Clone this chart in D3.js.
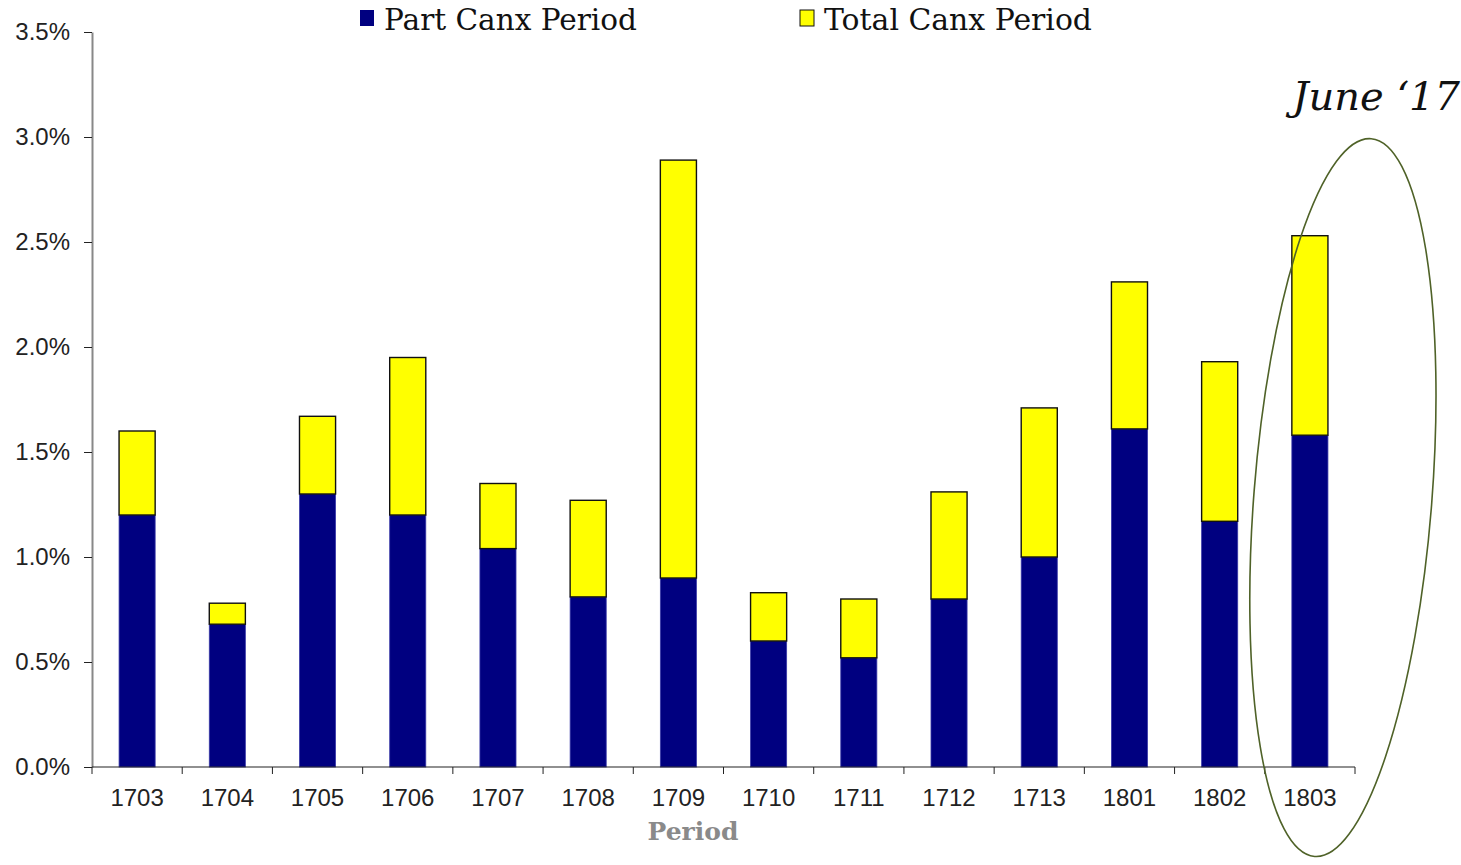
<!DOCTYPE html>
<html>
<head>
<meta charset="utf-8">
<script src="https://cdn.jsdelivr.net/npm/d3@7"></script>
<style>
  html, body { margin: 0; padding: 0; background: #fff; }
  svg { display: block; }
</style>
</head>
<body>
<script>
const categories = ["1703","1704","1705","1706","1707","1708","1709","1710","1711","1712","1713","1801","1802","1803"];
// Stacked segment heights, in percent
const partCanx  = [1.20, 0.68, 1.30, 1.20, 1.04, 0.81, 0.90, 0.60, 0.52, 0.80, 1.00, 1.61, 1.17, 1.58];
const totalCanx = [0.40, 0.10, 0.37, 0.75, 0.31, 0.46, 1.99, 0.23, 0.28, 0.51, 0.71, 0.70, 0.76, 0.95];
const yTicks = [0, 0.5, 1.0, 1.5, 2.0, 2.5, 3.0, 3.5];
const seriesNames = ["Part Canx Period", "Total Canx Period"];
const seriesColors = ["#000080", "#ffff00"];
const highlightCategory = "1803";
const annotationText = "June \u201817";

const W = 1461, H = 865;
const margin = {left: 92, right: 106, top: 32, bottom: 98};
const svg = d3.select("body").append("svg").attr("width", W).attr("height", H);

const x = d3.scaleBand().domain(categories).range([margin.left, W - margin.right]).paddingInner(0.6).paddingOuter(0.3);
const xEdges = d3.scaleBand().domain(categories).range([margin.left, W - margin.right]);
const y = d3.scaleLinear().domain([0, 3.5]).range([H - margin.bottom, margin.top]);

const data = categories.map((c, i) => ({cat: c, part: partCanx[i], total: totalCanx[i]}));
const stack = d3.stack().keys(["part", "total"])(data);

// Y axis
const yAxis = svg.append("g").attr("transform", `translate(${margin.left},0)`)
  .call(d3.axisLeft(y).tickValues(yTicks).tickFormat(d => d.toFixed(1) + "%").tickSize(8).tickSizeOuter(0));
yAxis.select(".domain").attr("stroke", "#888").attr("stroke-width", 2);
yAxis.selectAll(".tick line").attr("stroke", "#222").attr("stroke-width", 1);
yAxis.selectAll(".tick text").attr("font-family", "Liberation Sans, Arial, sans-serif").attr("font-size", 24).attr("fill", "#222").attr("x", -22);

// Bars
const layers = svg.append("g").selectAll("g").data(stack).join("g");
layers.each(function(layer, li) {
  d3.select(this).selectAll("rect").data(layer).join("rect")
    .attr("x", d => x(d.data.cat))
    .attr("width", x.bandwidth())
    .attr("y", d => y(d[1]))
    .attr("height", d => y(d[0]) - y(d[1]))
    .attr("fill", seriesColors[li])
    .attr("stroke", li === 0 ? "#3a3aa8" : "#111")
    .attr("stroke-width", li === 0 ? 0.8 : 1.4);
});

// X axis
const xAxisG = svg.append("g").attr("transform", `translate(0,${H - margin.bottom})`);
xAxisG.append("line").attr("x1", margin.left).attr("x2", W - margin.right).attr("stroke", "#222").attr("stroke-width", 1.2);
const edges = categories.map(c => xEdges(c)).concat([W - margin.right]);
xAxisG.selectAll("line.tk").data(edges).join("line").attr("class", "tk")
  .attr("x1", d => d).attr("x2", d => d).attr("y1", 0).attr("y2", 7).attr("stroke", "#222").attr("stroke-width", 1);
xAxisG.selectAll("text").data(categories).join("text")
  .attr("x", d => x(d) + x.bandwidth() / 2).attr("y", 39)
  .attr("text-anchor", "middle")
  .attr("font-family", "Liberation Sans, Arial, sans-serif").attr("font-size", 24).attr("fill", "#222")
  .text(d => d);

svg.append("text").attr("x", 693).attr("y", 840).attr("text-anchor", "middle")
  .attr("font-family", "DejaVu Serif, serif").attr("font-weight", "bold").attr("font-size", 25).attr("fill", "#8a8a8a")
  .text("Period");

// Legend
const legendPos = [360, 800];
const legendWidths = [253, 268];
seriesNames.forEach((n, i) => {
  svg.append("rect").attr("x", legendPos[i]).attr("y", 10).attr("width", 14).attr("height", 16)
    .attr("fill", seriesColors[i]).attr("stroke", i === 0 ? "none" : "#111").attr("stroke-width", 1);
  svg.append("text").attr("x", legendPos[i] + 24).attr("y", 30)
    .attr("font-family", "DejaVu Serif, serif").attr("font-size", 30).attr("fill", "#111")
    .attr("textLength", legendWidths[i]).attr("lengthAdjust", "spacingAndGlyphs")
    .text(n);
});

// Annotation
const hx = x(highlightCategory) + x.bandwidth() / 2;
svg.append("ellipse")
  .attr("cx", 0).attr("cy", 0).attr("rx", 89).attr("ry", 360)
  .attr("transform", `translate(${hx + 33},${y(1.283)}) rotate(4.5)`)
  .attr("fill", "none").attr("stroke", "#4f6228").attr("stroke-width", 1.6);
svg.append("text").attr("x", 1460).attr("y", 110).attr("text-anchor", "end")
  .attr("font-family", "DejaVu Serif, serif").attr("font-style", "italic").attr("font-size", 40).attr("fill", "#111")
  .text(annotationText);
</script>
</body>
</html>
